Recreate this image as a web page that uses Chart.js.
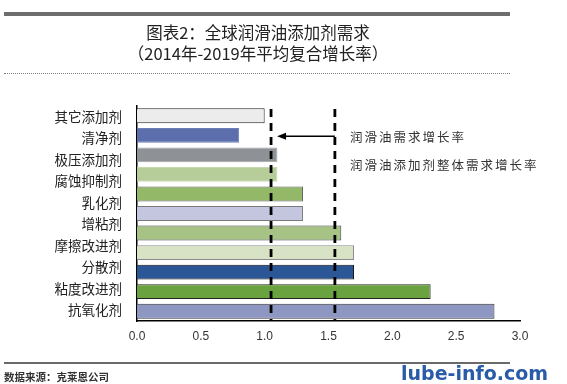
<!DOCTYPE html>
<html>
<head>
<meta charset="utf-8">
<script src="https://cdn.jsdelivr.net/npm/chart.js@4/dist/chart.umd.min.js"></script>
<style>
  body { margin: 0; background: #fff; }
  #wrap { position: relative; width: 567px; height: 384px; overflow: hidden; font-family: "Noto Sans CJK SC", sans-serif; }
  #grafico { position: absolute; left: 0; top: 0; }
  .capa { position: absolute; z-index: 2; }
  #barraTop { left: 4px; top: 12px; width: 506px; height: 4px; background: #6e6e6e; }
  #titulo { left: 0; top: 22px; width: 516px; text-align: center; font-size: 16.5px; line-height: 21px; color: #222; }
  #puntos { left: 4px; top: 73px; width: 506px; border-top: 1.5px dotted #808080; }
  .leyenda { left: 350px; font-size: 12.5px; line-height: 16px; letter-spacing: 2px; color: #333; }
  #lineaBase { left: 4px; top: 362px; width: 506px; height: 2px; background: #6a6a6a; }
  #fuente { left: 4px; top: 370px; font-size: 10.5px; line-height: 14px; font-weight: bold; color: #333; }
  #marca { left: 401px; top: 360px; font-family: "DejaVu Sans", sans-serif; font-weight: bold; font-size: 19px; line-height: 26px; color: #2a5ba8; text-shadow: 0 -1px 0 #fff, 1px 0 0 #fff, -1px 0 0 #fff; }
</style>
</head>
<body>
<div id="wrap">
  <canvas id="grafico" width="567" height="384"></canvas>
  <div class="capa" id="barraTop"></div>
  <div class="capa" id="titulo">图表2：全球润滑油添加剂需求<br>（2014年-2019年平均复合增长率）</div>
  <div class="capa" id="puntos"></div>
  <div class="capa leyenda" style="top:129px">润滑油需求增长率</div>
  <div class="capa leyenda" style="top:157px">润滑油添加剂整体需求增长率</div>
  <div class="capa" id="lineaBase"></div>
  <div class="capa" id="fuente">数据来源：克莱恩公司</div>
  <div class="capa" id="marca">lube-info.com</div>
</div>
<script>
// etiquetas del eje (10) y barras (11) tal como aparecen en la imagen
const categorias = ["其它添加剂", "清净剂", "极压添加剂", "腐蚀抑制剂", "乳化剂", "增粘剂", "摩擦改进剂", "分散剂", "粘度改进剂", "抗氧化剂"];
const valores = [1.0, 0.8, 1.1, 1.1, 1.3, 1.3, 1.6, 1.7, 1.7, 2.3, 2.8];
const colores = ["#ececec", "#5c6fac", "#8e9296", "#b6cd9a", "#92b868", "#c3c6de", "#a6c285", "#d8e2c4", "#2c5797", "#6aa23f", "#8e96c2"];
const bordes = ["#222222", "#6d7fb6", "#a0a3a7", "#c6d8ae", "#5a5a5a", "#7a7a7a", "#444444", "#8a8a8a", "#111111", "#222222", "#333333"];
const ticksX = [0, 0.5, 1, 1.5, 2, 2.5, 3];
const lineasRef = [1.05, 1.55]; // 润滑油需求增长率, 整体需求增长率

const lineasPlugin = {
  id: "lineasRef",
  afterDatasetsDraw(chart) {
    const ctx = chart.ctx;
    const x = chart.scales.x;
    const y = chart.scales.y;
    const area = chart.chartArea;
    ctx.save();
    ctx.strokeStyle = "#000";
    ctx.lineWidth = 2.8;
    ctx.setLineDash([8, 6]);
    lineasRef.forEach((v) => {
      const px = x.getPixelForValue(v);
      ctx.beginPath();
      ctx.moveTo(px, area.top + 3);
      ctx.lineTo(px, area.bottom);
      ctx.stroke();
    });
    // flecha
    const x1 = x.getPixelForValue(lineasRef[1]);
    const x0 = x.getPixelForValue(lineasRef[0]) + 6;
    const py = y.getPixelForValue(1) + 1;
    ctx.setLineDash([]);
    ctx.lineWidth = 1.5;
    ctx.beginPath();
    ctx.moveTo(x1, py);
    ctx.lineTo(x0 + 8, py);
    ctx.stroke();
    ctx.fillStyle = "#000";
    ctx.beginPath();
    ctx.moveTo(x0, py);
    ctx.lineTo(x0 + 9, py - 3.5);
    ctx.lineTo(x0 + 9, py + 3.5);
    ctx.closePath();
    ctx.fill();
    ctx.restore();
  },
};

new Chart(document.getElementById("grafico"), {
  type: "bar",
  data: {
    labels: valores.map((v, i) => "b" + i),
    datasets: [
      {
        data: valores,
        backgroundColor: colores,
        borderColor: bordes,
        borderWidth: 1,
        barPercentage: 0.76,
        categoryPercentage: 1,
      },
    ],
  },
  options: {
    indexAxis: "y",
    responsive: false,
    animation: false,
    devicePixelRatio: 1,
    layout: { padding: { left: 0, right: 47, top: 106, bottom: 33 } },
    plugins: { legend: { display: false }, tooltip: { enabled: false } },
    scales: {
      x: {
        min: 0,
        max: 3,
        afterBuildTicks: (axis) => { axis.ticks = ticksX.map((v) => ({ value: v })); },
        afterFit: (axis) => { axis.height = 30; },
        grid: { display: false, drawTicks: false },
        border: { display: true, color: "#000", width: 1.5 },
        ticks: {
          padding: 8,
          color: "#333",
          font: { family: "Liberation Sans", size: 12 },
          callback: (v) => Number(v).toFixed(1),
        },
      },
      y: {
        weight: 0,
        afterFit: (axis) => { axis.width = 0; },
        grid: { display: false, drawTicks: false },
        border: { display: true, color: "#000", width: 1.5 },
        ticks: { display: false },
      },
      y2: {
        type: "category",
        position: "left",
        weight: 1,
        labels: categorias,
        offset: true,
        afterFit: (axis) => { axis.width = 137; },
        grid: { display: false, drawTicks: false },
        border: { display: false },
        ticks: {
          padding: 15,
          color: "#222",
          font: { family: "Noto Sans CJK SC", size: 13.5 },
        },
      },
    },
  },
  plugins: [lineasPlugin],
});
</script>
</body>
</html>
